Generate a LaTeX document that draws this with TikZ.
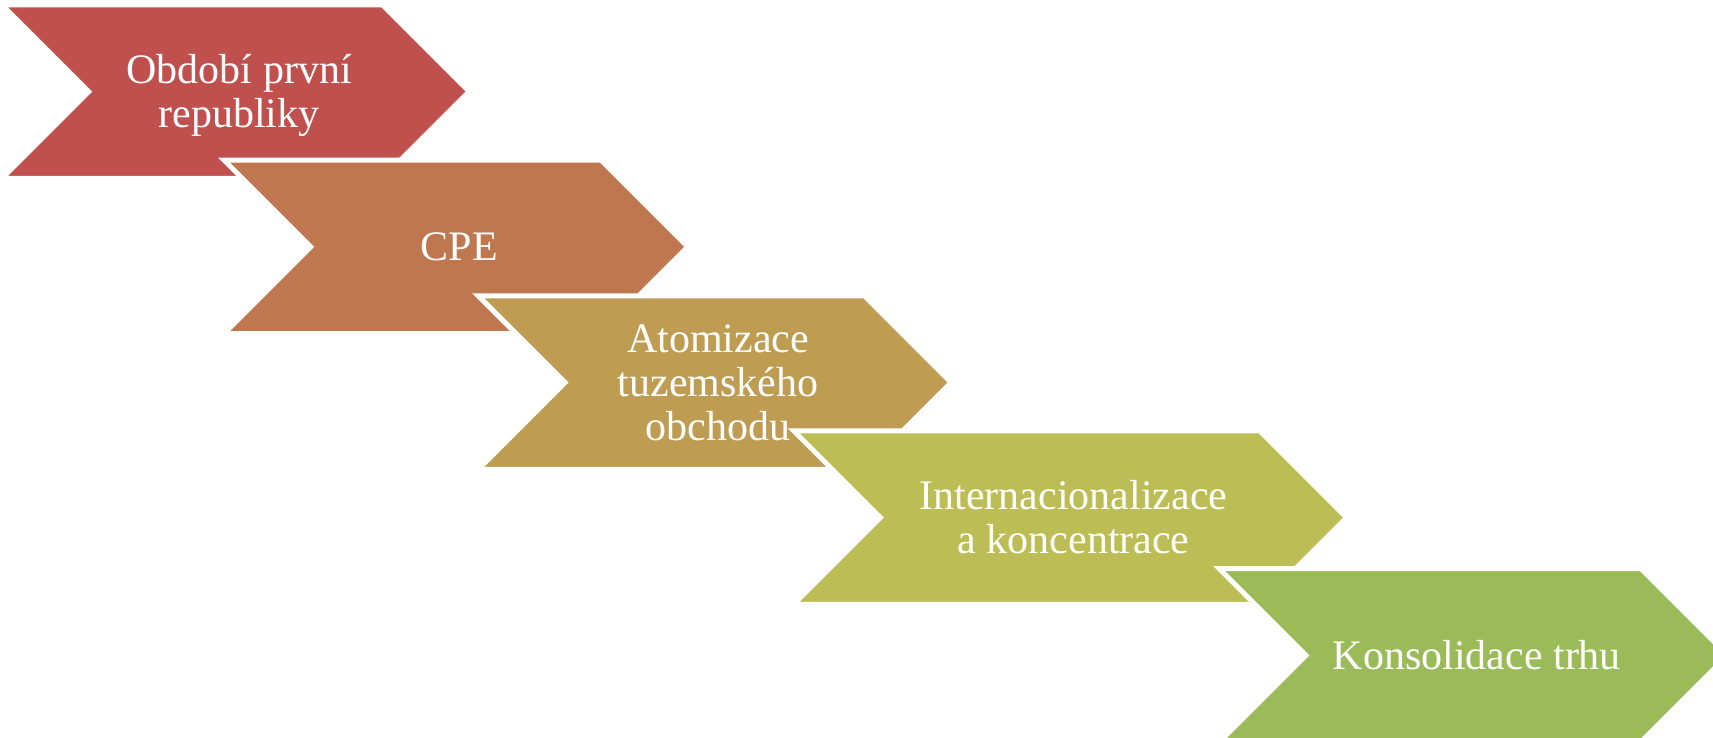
\documentclass[tikz,border=0pt]{standalone}
\usepackage{fontspec}
\setmainfont{Liberation Serif}
\definecolor{cA}{HTML}{C0504D}
\definecolor{cB}{HTML}{BF774F}
\definecolor{cC}{HTML}{BE9C52}
\definecolor{cD}{HTML}{BCBD55}
\definecolor{cE}{HTML}{9BBB59}
\newcommand\chevshape[4]{%
  \path[chev, fill=#4, shift={(#1,#2)}] (0,0) -- (#3-86.75,0) -- (#3,86.75) -- (#3-86.75,173.5) -- (0,173.5) -- (86.75,86.75) -- cycle;}
\begin{document}
\begin{tikzpicture}[x=0.5pt,y=-0.5pt,
  chev/.style={draw=white, line width=2.5pt, line join=miter},
  lbl/.style={text=white, font=\fontsize{21}{22.2}\selectfont, align=center, inner sep=0pt}]
\clip (0,0) rectangle (1713,738);
\chevshape{2}{4.8}{467.2}{cA}
\node[lbl] (t1) at ({2+467.2/2+3.5},{4.8+86.75+5}) {\strut Období první\\\strut republiky};
\chevshape{224}{160.2}{463.8}{cB}
\node[lbl] (t2) at ({224+463.8/2+3.5},{160.2+86.75+5}) {\strut CPE};
\chevshape{478.3}{295.8}{472.9}{cC}
\node[lbl] (t3) at ({478.3+472.9/2+3.5},{295.8+86.75+5}) {\strut Atomizace\\\strut tuzemského\\\strut obchodu};
\chevshape{793.6}{430.8}{552.9}{cD}
\node[lbl] (t4) at ({793.6+552.9/2+3.5},{430.8+86.75+5}) {\strut Internacionalizace\\\strut a koncentrace};
\chevshape{1219.2}{568.5}{508.4}{cE}
\node[lbl] (t5) at ({1219.2+508.4/2+3.5},{568.5+86.75+5}) {\strut Konsolidace trhu};
\end{tikzpicture}
\end{document}
